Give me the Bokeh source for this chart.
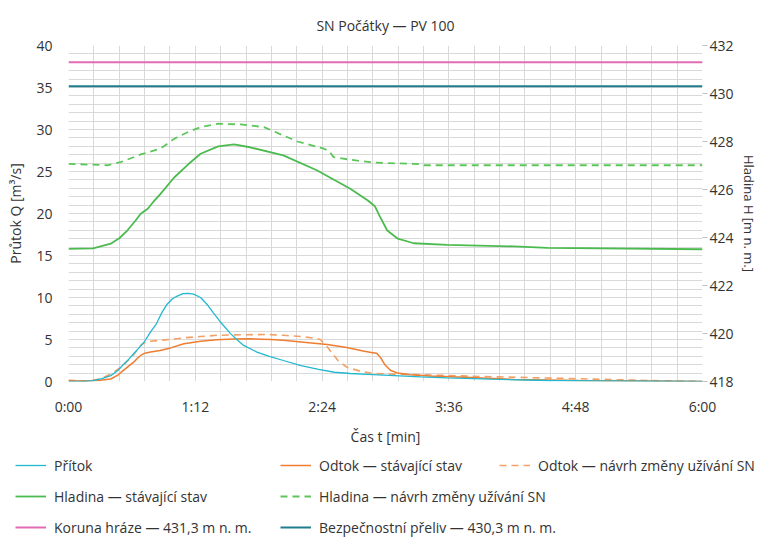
import math
from bokeh.plotting import figure
from bokeh.models import Range1d, LinearAxis, FixedTicker, Legend, LegendItem
from bokeh.embed import file_html
from bokeh.resources import INLINE

# ---- data (time in minutes) ----
x_ticks = [0, 72, 144, 216, 288, 360]
x_labels = ["0:00", "1:12", "2:24", "3:36", "4:48", "6:00"]
q_ticks = [0, 5, 10, 15, 20, 25, 30, 35, 40]
h_ticks = [418, 420, 422, 424, 426, 428, 430, 432]

pritok_t = [0, 8, 14, 19, 24, 28, 31, 34, 37, 40, 43, 46.6, 50, 53, 56, 59, 62, 65, 68, 71, 75,
            79, 82.5, 87, 92, 96, 99.5, 107, 114, 122, 132, 142, 151, 160, 170, 185, 200, 215,
            240, 272, 300, 330, 360]
pritok_q = [0, 0, 0.1, 0.35, 0.7, 1.3, 2.0, 2.6, 3.3, 4.0, 4.7, 5.9, 6.9, 8.2, 9.2, 9.85, 10.2,
            10.45, 10.5, 10.4, 10.0, 9.1, 8.1, 6.9, 5.7, 4.9, 4.3, 3.5, 3.0, 2.5, 1.9, 1.45, 1.1,
            0.95, 0.85, 0.7, 0.55, 0.44, 0.28, 0.12, 0.07, 0.03, 0.0]

odtok_t = [0, 10, 18, 24, 28, 31, 34, 37, 39, 41, 43, 44, 46.6, 52, 58, 65.5, 75, 84, 94, 103,
           115, 122, 135, 147, 158, 168, 172, 175, 177, 180, 183, 187, 194, 205, 225, 253, 290,
           330, 360]
odtok_q = [0.1, 0.05, 0.15, 0.3, 0.75, 1.3, 1.8, 2.3, 2.75, 3.1, 3.35, 3.4, 3.5, 3.7, 4.0, 4.5,
           4.8, 4.96, 5.05, 5.08, 5.0, 4.9, 4.65, 4.4, 4.05, 3.6, 3.45, 3.35, 2.9, 1.9, 1.3, 1.0,
           0.8, 0.65, 0.5, 0.25, 0.13, 0.05, 0.0]

odtok_navrh_t = [0, 8, 14, 18, 25, 31, 37, 41, 44, 46.6, 52, 60, 65.5, 75, 84.4, 94, 113, 122,
                 132, 140, 143, 147, 153, 158, 166, 173, 185, 196, 234, 291, 330, 360]
odtok_navrh_q = [0.15, 0.05, 0.15, 0.3, 1.0, 1.9, 3.2, 4.3, 4.75, 4.8, 4.9, 5.05, 5.2, 5.35, 5.5,
                 5.55, 5.6, 5.5, 5.35, 5.15, 5.0, 4.1, 2.5, 1.7, 1.2, 0.95, 0.88, 0.83, 0.6, 0.32,
                 0.12, 0.0]

hladina_t = [0, 14, 24, 29, 33.5, 38, 41, 45, 48, 52, 60, 68, 75, 85, 94, 103, 122, 141, 160,
             170, 174, 177, 181, 187, 196, 215, 253, 272, 360]
hladina_h = [423.53, 423.55, 423.74, 423.98, 424.3, 424.7, 424.99, 425.2, 425.47, 425.8, 426.5,
             427.05, 427.49, 427.8, 427.88, 427.76, 427.42, 426.8, 426.03, 425.54, 425.3, 424.85,
             424.29, 423.95, 423.76, 423.69, 423.63, 423.57, 423.51]

hladina_navrh_t = [0, 22, 30, 41, 52, 56, 60, 68, 75, 85, 98, 111, 122, 130, 136, 145, 148,
                   150.5, 160, 171.5, 177, 196, 200, 202, 360]
hladina_navrh_h = [427.07, 427.01, 427.15, 427.46, 427.7, 427.9, 428.11, 428.4, 428.6, 428.74,
                   428.71, 428.6, 428.25, 428.0, 427.88, 427.7, 427.6, 427.35, 427.24, 427.14,
                   427.11, 427.07, 427.05, 427.01, 427.01]

koruna_h = 431.3
preliv_h = 430.3
t_span = [0, 360]

FONT = "Open Sans"
TXT = "#333333"

STYLES = {
    "pritok": dict(line_color="#22b8cf", line_width=1.3),
    "odtok": dict(line_color="#ee7d31", line_width=1.5),
    "odtok_navrh": dict(line_color="#f3a066", line_width=1.6, line_dash="7 5"),
    "hladina": dict(line_color="#4cbb4f", line_width=1.8),
    "hladina_navrh": dict(line_color="#5cc65a", line_width=1.8, line_dash="7 5"),
    "koruna": dict(line_color="#e36bb4", line_width=2),
    "preliv": dict(line_color="#1f7d8c", line_width=2),
}

p = figure(width=761, height=448, output_backend="svg", toolbar_location=None,
           x_range=Range1d(0, 360), y_range=Range1d(0, 40),
           min_border_left=68, min_border_right=59, min_border_top=45, min_border_bottom=67)
p.extra_y_ranges = {"h": Range1d(418, 432)}
p.outline_line_color = None
p.background_fill_color = "white"

p.title.text = "SN Počátky — PV 100"
p.title.align = "center"
p.title.text_font = FONT
p.title.text_font_size = "14px"
p.title.text_font_style = "normal"
p.title.text_color = TXT
p.title.standoff = 22

# grids
p.xgrid.ticker = FixedTicker(ticks=[i * 14.4 for i in range(26)])
p.ygrid.ticker = FixedTicker(ticks=list(range(0, 41)))
p.xgrid.grid_line_color = "#d9d9d9"
p.ygrid.grid_line_color = "#d9d9d9"

# axes
xa = p.xaxis[0]
xa.ticker = FixedTicker(ticks=x_ticks)
xa.major_label_overrides = {t: l for t, l in zip(x_ticks, x_labels)}
xa.axis_label = "Čas t [min]"

ya = p.yaxis[0]
ya.ticker = FixedTicker(ticks=q_ticks)
ya.axis_label = "Průtok Q [m³/s]"

ra = LinearAxis(y_range_name="h", ticker=FixedTicker(ticks=h_ticks), axis_label="Hladina H [m n. m.]")
p.add_layout(ra, "right")

for ax in (xa, ya, ra):
    ax.axis_line_color = None
    ax.minor_tick_line_color = None
    ax.major_tick_line_color = None
    ax.major_tick_out = 0
    ax.major_tick_in = 0
    ax.major_label_text_font = FONT
    ax.major_label_text_font_size = "14px"
    ax.major_label_text_color = TXT
    ax.axis_label_text_font = FONT
    ax.axis_label_text_font_size = "14px"
    ax.axis_label_text_font_style = "normal"
    ax.axis_label_text_color = TXT
xa.major_label_standoff = 15
xa.axis_label_standoff = 8
ya.major_label_standoff = 16
ya.axis_label_standoff = 8
ra.major_tick_line_color = "#bfbfbf"
ra.major_tick_out = 5
ra.major_label_standoff = 2
ra.axis_label_standoff = 3
ra.axis_label_text_font_size = "13px"

# series
p.line(t_span, [koruna_h, koruna_h], y_range_name="h", **STYLES["koruna"])
p.line(t_span, [preliv_h, preliv_h], y_range_name="h", **STYLES["preliv"])
p.line(hladina_navrh_t, hladina_navrh_h, y_range_name="h", **STYLES["hladina_navrh"])
p.line(hladina_t, hladina_h, y_range_name="h", **STYLES["hladina"])
p.line(odtok_navrh_t, odtok_navrh_q, **STYLES["odtok_navrh"])
p.line(odtok_t, odtok_q, **STYLES["odtok"])
p.line(pritok_t, pritok_q, **STYLES["pritok"])

# ---- legend strip (separate root below; legend keys are style-only renderers) ----
lg = figure(width=761, height=90, output_backend="svg", toolbar_location=None,
            x_range=Range1d(0, 1), y_range=Range1d(0, 1),
            x_axis_type=None, y_axis_type=None, min_border=0)
lg.outline_line_color = None
lg.xgrid.visible = False
lg.ygrid.visible = False

key = {k: lg.line(x=[math.nan], y=[math.nan], **v) for k, v in STYLES.items()}


def make_legend(items, loc):
    leg = Legend(items=[LegendItem(label=l, renderers=[key[k]]) for l, k in items],
                 location=loc, orientation="vertical", spacing=11,
                 glyph_width=31, glyph_height=20, label_height=20, label_standoff=8,
                 padding=0, margin=0, border_line_color=None, background_fill_alpha=0,
                 label_text_font=FONT, label_text_font_size="14px", label_text_color=TXT)
    lg.add_layout(leg)


make_legend([("Přítok", "pritok"), ("Hladina — stávající stav", "hladina"),
             ("Koruna hráze — 431,3 m n. m.", "koruna")], (15, 1))
make_legend([("Odtok — stávající stav", "odtok"), ("Hladina — návrh změny užívání SN", "hladina_navrh"),
             ("Bezpečnostní přeliv — 430,3 m n. m.", "preliv")], (280, 1))
make_legend([("Odtok — návrh změny užívání SN", "odtok_navrh")], (499, 63))

open("out.html", "w").write(file_html([p, lg], INLINE))
